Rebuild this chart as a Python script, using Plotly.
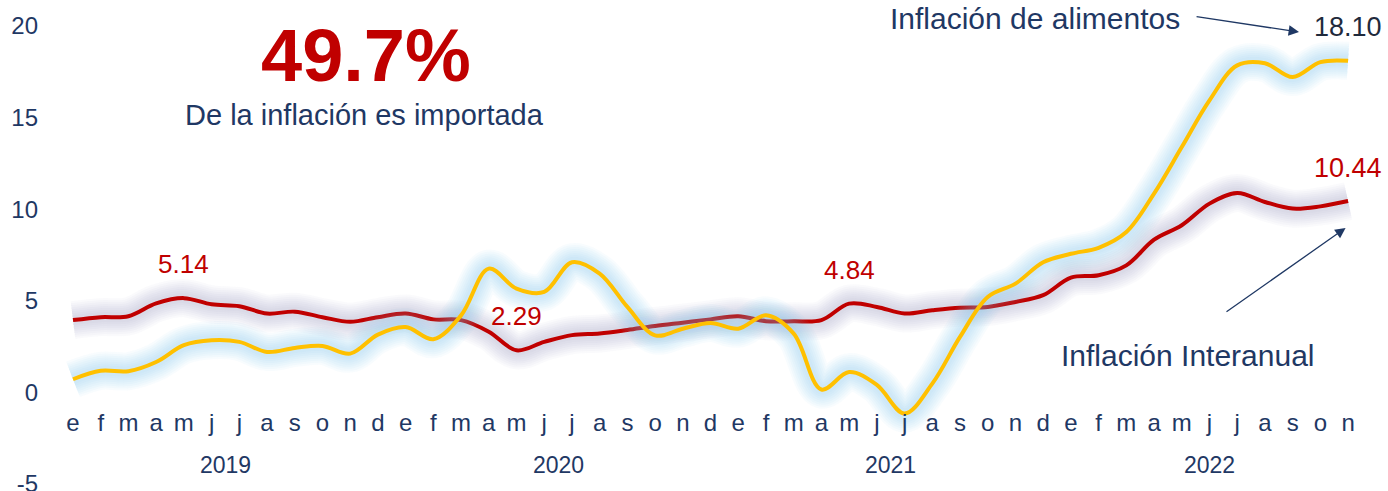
import plotly.graph_objects as go

# ---------------- data ----------------
month_labels = ['e', 'f', 'm', 'a', 'm', 'j', 'j', 'a', 's', 'o', 'n', 'd',
                'e', 'f', 'm', 'a', 'm', 'j', 'j', 'a', 's', 'o', 'n', 'd',
                'e', 'f', 'm', 'a', 'm', 'j', 'j', 'a', 's', 'o', 'n', 'd',
                'e', 'f', 'm', 'a', 'm', 'j', 'j', 'a', 's', 'o', 'n']
years = ['2019', '2020', '2021', '2022']
year_first_idx = [0, 12, 24, 36]
year_last_idx = [11, 23, 35, 46]

inflacion_interanual = [3.94, 4.10, 4.15, 4.85, 5.14, 4.80, 4.70, 4.30, 4.40, 4.10, 3.85, 4.10,
                        4.30, 3.98, 3.94, 3.31, 2.29, 2.75, 3.12, 3.21, 3.40, 3.62, 3.80, 3.98,
                        4.15, 3.88, 3.88, 3.94, 4.84, 4.66, 4.30, 4.48, 4.62, 4.66, 4.93, 5.30,
                        6.26, 6.39, 6.93, 8.33, 9.12, 10.30, 10.88, 10.39, 10.03, 10.15, 10.44]

inflacion_alimentos = [0.71, 1.17, 1.15, 1.65, 2.57, 2.84, 2.75, 2.20, 2.42, 2.53, 2.11, 3.15,
                       3.56, 2.90, 4.20, 6.75, 5.66, 5.48, 7.10, 6.48, 4.66, 3.11, 3.47, 3.78,
                       3.47, 4.20, 3.20, 0.15, 1.10, 0.40, -1.16, 0.47, 3.02, 5.20, 5.93, 7.10,
                       7.56, 7.89, 8.75, 10.85, 13.39, 15.94, 17.85, 17.97, 17.21, 18.03, 18.10]

labelled_points = [4, 16, 28]   # 5.14, 2.29, 4.84
y_ticks = [-5, 0, 5, 10, 15, 20]
y_tick_text = ['-5', '0', '5', '10', '15', '20']

# ---------------- styles ----------------
RED = '#C00000'
YELLOW = '#FFC000'
NAVY = '#1F3864'
DARK = '#1F2A3C'
FONT = 'Liberation Sans, Arial, sans-serif'

x = list(range(len(month_labels)))

fig = go.Figure()


def add_glow(yvals, rgb, alpha):
    for w in [38, 34, 30, 26, 22, 18, 14, 10]:
        fig.add_trace(go.Scatter(
            x=x, y=yvals, mode='lines', line_shape='spline',
            line=dict(color=f'rgba({rgb},{alpha})', width=w),
            hoverinfo='skip', showlegend=False))


# red series with grey glow
add_glow(inflacion_interanual, '140,145,175', 0.042)
fig.add_trace(go.Scatter(x=x, y=inflacion_interanual, mode='lines', line_shape='spline',
                         name='Inflación Interanual',
                         line=dict(color=RED, width=4), showlegend=False))
# yellow series with blue glow
add_glow(inflacion_alimentos, '120,200,238', 0.05)
fig.add_trace(go.Scatter(x=x, y=inflacion_alimentos, mode='lines', line_shape='spline',
                         name='Inflación de alimentos',
                         line=dict(color=YELLOW, width=4), showlegend=False))

annotations = []

# data labels on the red series
for i in labelled_points:
    annotations.append(dict(x=i, y=inflacion_interanual[i] + 1.85, xref='x', yref='y',
                            text=f'{inflacion_interanual[i]:.2f}', showarrow=False,
                            font=dict(family=FONT, size=26, color=RED)))

last = len(x) - 1
annotations.append(dict(x=last, y=inflacion_interanual[last] + 1.8, xref='x', yref='y',
                        text=f'{inflacion_interanual[last]:.2f}', showarrow=False,
                        font=dict(family=FONT, size=27, color=RED)))
annotations.append(dict(x=last, y=inflacion_alimentos[last] + 1.86, xref='x', yref='y',
                        text=f'{inflacion_alimentos[last]:.2f}', showarrow=False,
                        font=dict(family=FONT, size=27, color=DARK)))

# year labels
for yr, a, b in zip(years, year_first_idx, year_last_idx):
    annotations.append(dict(x=(a + b) / 2, y=-3.98, xref='x', yref='y', text=yr,
                            showarrow=False, font=dict(family=FONT, size=23, color=NAVY)))

# headline
annotations.append(dict(x=10.58, y=18.40, xref='x', yref='y', text='<b>49.7%</b>',
                        showarrow=False, font=dict(family=FONT, size=74, color=RED)))
annotations.append(dict(x=10.53, y=15.15, xref='x', yref='y',
                        text='De la inflación es importada', showarrow=False,
                        font=dict(family=FONT, size=29, color=NAVY)))

# series names
annotations.append(dict(x=34.69, y=1.0155, xref='x', yref='paper', yanchor='middle',
                        text='Inflación de alimentos',
                        showarrow=False, font=dict(family=FONT, size=30, color=NAVY)))
annotations.append(dict(x=40.21, y=1.98, xref='x', yref='y', text='Inflación Interanual',
                        showarrow=False, font=dict(family=FONT, size=30, color=NAVY)))

# arrows
annotations.append(dict(x=44.23, y=19.67, ax=40.48, ay=20.52, xref='x', yref='y',
                        axref='x', ayref='y', text='', showarrow=True, arrowhead=2,
                        arrowsize=1.6, arrowwidth=1.3, arrowcolor=NAVY, standoff=0))
annotations.append(dict(x=45.91, y=8.97, ax=41.56, ay=4.34, xref='x', yref='y',
                        axref='x', ayref='y', text='', showarrow=True, arrowhead=2,
                        arrowsize=1.6, arrowwidth=1.3, arrowcolor=NAVY, standoff=0))

fig.update_layout(
    width=1388, height=491,
    margin=dict(l=42, r=0, t=26, b=7),
    paper_bgcolor='white', plot_bgcolor='white',
    font=dict(family=FONT, color=NAVY),
    annotations=annotations,
    xaxis=dict(range=[-1.118, 47.44], tickmode='array', tickvals=x, ticktext=month_labels,
               showgrid=False, zeroline=False, showline=False, ticks='',
               tickfont=dict(family=FONT, size=24, color=NAVY),
               anchor='free', position=0.17, automargin=False),
    yaxis=dict(range=[-5.01, 20], tickmode='array', tickvals=y_ticks, ticktext=y_tick_text,
               showgrid=False, zeroline=False, showline=False, ticks='',
               ticklabeloverflow='allow', ticklabelstandoff=3, automargin=False,
               tickfont=dict(family=FONT, size=24, color=NAVY)),
)

fig.write_html('out.html')
